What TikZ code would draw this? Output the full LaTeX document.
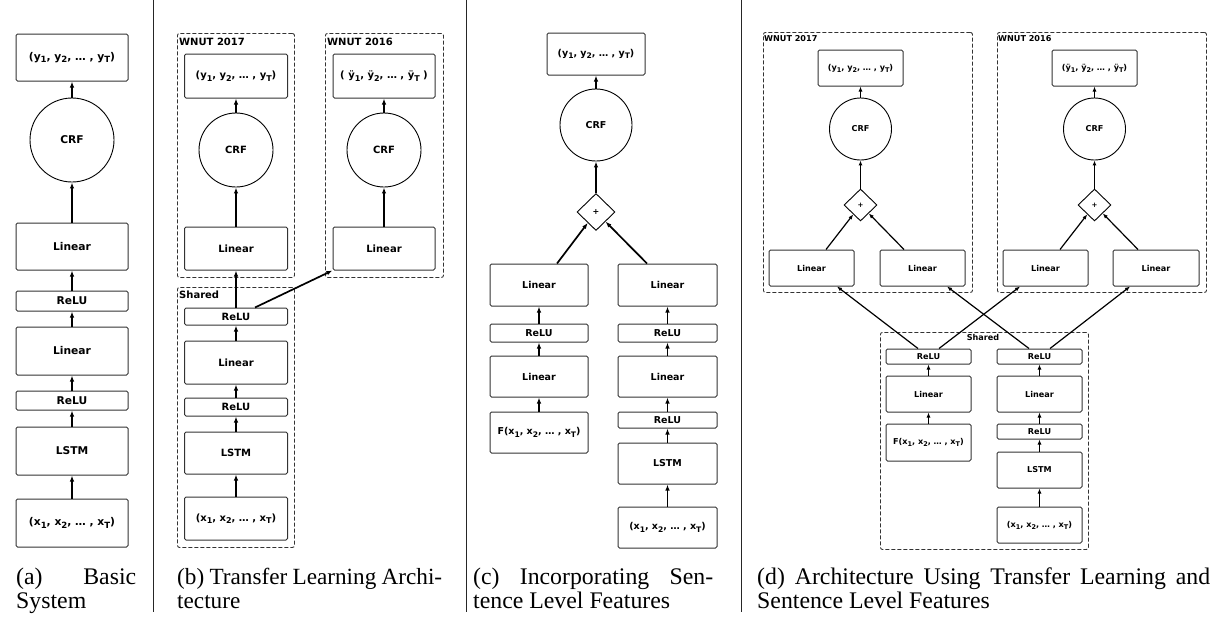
\documentclass[tikz,border=0pt]{standalone}
\usepackage{fontspec}
\usepackage{graphicx}
\setmainfont{Liberation Serif}
\setsansfont{DejaVu Sans}
\usetikzlibrary{arrows.meta,shapes.geometric,calc}
\newcommand\lsub[1]{\raisebox{-0.45ex}{\scalebox{0.8}{#1}}}
\newcommand\labY{(y\lsub{1}, y\lsub{2}, … , y\lsub{T})}
\newcommand\labYh{( ÿ\lsub{1}, ÿ\lsub{2}, … , ÿ\lsub{T} )}
\newcommand\labYhd{(ÿ\lsub{1}, ÿ\lsub{2}, … , ÿ\lsub{T})}
\newcommand\labX{(x\lsub{1}, x\lsub{2}, … , x\lsub{T})}
\newcommand\labF{F(x\lsub{1}, x\lsub{2}, … , x\lsub{T})}
\tikzset{
  nbox/.style={draw=black!80, line width=1pt, rounded corners=1.5pt, inner sep=0pt},
  ncrf/.style={circle, draw=black, line width=0.9pt, inner sep=0pt},
  nplus/.style={diamond, draw=black, line width=0.9pt, inner sep=0pt},
  ngrp/.style={draw=black!80, dash pattern=on 4pt off 2pt, line width=0.9pt, rounded corners=2pt, inner sep=0pt, anchor=north west},
  narr/.style={-{Latex[length=6pt,width=4.5pt]}, line width=1.7pt},
  narrd/.style={-{Latex[length=5pt,width=4pt]}, line width=1.2pt},
  nsep/.style={line width=0.9pt, black!85},
  fa/.style={font=\sffamily\bfseries\fontsize{10.7}{12}\selectfont},
  fb/.style={font=\sffamily\bfseries\fontsize{10}{12}\selectfont},
  fc/.style={font=\sffamily\bfseries\fontsize{9.5}{11}\selectfont},
  fd/.style={font=\sffamily\bfseries\fontsize{8.1}{10}\selectfont},
  captxt/.style={anchor=base west, inner sep=0pt, font=\fontsize{23.8}{24}\selectfont},
}
\begin{document}
\begin{tikzpicture}[x=1pt,y=-1pt]
\useasboundingbox (0,0) rectangle (1223,621);
% separators
\draw[nsep] (153,0) -- (153,612);
\draw[nsep] (466.5,0) -- (466.5,612);
\draw[nsep] (741,0) -- (741,612);

% ---------------- panel (a)
\begin{scope}[fa]
\node[nbox, minimum width=112pt, minimum height=47pt] (ya) at (72,57.5) {\labY};
\node[ncrf, minimum size=84pt] (crfa) at (72,140) {CRF};
\node[nbox, minimum width=112pt, minimum height=47pt] (lin2a) at (72,246.5) {Linear};
\node[nbox, minimum width=112pt, minimum height=20pt] (relu2a) at (72,301) {ReLU};
\node[nbox, minimum width=112pt, minimum height=48pt] (lin1a) at (72,351) {Linear};
\node[nbox, minimum width=112pt, minimum height=19pt] (relu1a) at (72,400.5) {ReLU};
\node[nbox, minimum width=112pt, minimum height=48pt] (lstma) at (72,451) {LSTM};
\node[nbox, minimum width=112pt, minimum height=48pt] (xa) at (72,523) {\labX};
\end{scope}
\draw[narr] (xa) -- (lstma);
\draw[narr] (lstma) -- (relu1a);
\draw[narr] (relu1a) -- (lin1a);
\draw[narr] (lin1a) -- (relu2a);
\draw[narr] (relu2a) -- (lin2a);
\draw[narr] (lin2a) -- (crfa);
\draw[narr] (crfa) -- (ya);

% ---------------- panel (b)
\node[ngrp, minimum width=117pt, minimum height=244pt] (g17b) at (177,33) {};
\node[ngrp, minimum width=118pt, minimum height=244pt] (g16b) at (325,33) {};
\node[ngrp, minimum width=117pt, minimum height=260pt] (gshb) at (177,287) {};
\begin{scope}[fb]
\node[anchor=base west, inner sep=0pt] (t17b) at (179,45) {WNUT 2017};
\node[anchor=base west, inner sep=0pt] (t16b) at (327,45) {WNUT 2016};
\node[anchor=base west, inner sep=0pt] (tshb) at (179,298) {Shared};
\node[nbox, minimum width=103pt, minimum height=44pt] (yb1) at (236,76) {\labY};
\node[ncrf, minimum size=74pt] (crfb1) at (236,150) {CRF};
\node[nbox, minimum width=103pt, minimum height=43pt] (linb1) at (236,248.5) {Linear};
\node[nbox, minimum width=102pt, minimum height=44pt] (yb2) at (384,76) {\labYh};
\node[ncrf, minimum size=74pt] (crfb2) at (384,150) {CRF};
\node[nbox, minimum width=102pt, minimum height=43pt] (linb2) at (384,248.5) {Linear};
\node[nbox, minimum width=103pt, minimum height=17pt] (relub2) at (236,316.5) {ReLU};
\node[nbox, minimum width=103pt, minimum height=43pt] (linb0) at (236,362.5) {Linear};
\node[nbox, minimum width=103pt, minimum height=18pt] (relub1) at (236,407) {ReLU};
\node[nbox, minimum width=103pt, minimum height=42pt] (lstmb) at (236,453) {LSTM};
\node[nbox, minimum width=103pt, minimum height=43pt] (xb) at (236,518.5) {\labX};
\end{scope}
\draw[narr] (xb) -- (lstmb);
\draw[narr] (lstmb) -- (relub1);
\draw[narr] (relub1) -- (linb0);
\draw[narr] (linb0) -- (relub2);
\draw[narr] (relub2) -- (linb1);
\draw[narr] ([xshift=19pt]relub2.north) -- (linb2.south west);
\draw[narr] (linb1) -- (crfb1);
\draw[narr] (crfb1) -- (yb1);
\draw[narr] (linb2) -- (crfb2);
\draw[narr] (crfb2) -- (yb2);

% ---------------- panel (c)
\begin{scope}[fc]
\node[nbox, minimum width=98pt, minimum height=42pt] (yc) at (596,54) {\labY};
\node[ncrf, minimum size=72pt] (crfc) at (596,125) {CRF};
\node[nplus, minimum width=38pt, minimum height=37pt, font=\sffamily\bfseries\fontsize{8}{9}\selectfont] (plusc) at (596,212) {+};
\node[nbox, minimum width=98pt, minimum height=42pt] (lincL) at (539,285) {Linear};
\node[nbox, minimum width=98pt, minimum height=18pt] (relucL) at (539,333) {ReLU};
\node[nbox, minimum width=98pt, minimum height=41pt] (lincL2) at (539,376.5) {Linear};
\node[nbox, minimum width=98pt, minimum height=41pt] (fc) at (539,432.5) {\labF};
\node[nbox, minimum width=99pt, minimum height=42pt] (lincR) at (667.5,285) {Linear};
\node[nbox, minimum width=99pt, minimum height=18pt] (relucR) at (667.5,333) {ReLU};
\node[nbox, minimum width=99pt, minimum height=41pt] (lincR2) at (667.5,376.5) {Linear};
\node[nbox, minimum width=99pt, minimum height=16pt] (relucR2) at (667.5,420) {ReLU};
\node[nbox, minimum width=99pt, minimum height=41pt] (lstmc) at (667.5,463.5) {LSTM};
\node[nbox, minimum width=99pt, minimum height=41pt] (xc) at (667.5,527.5) {\labX};
\end{scope}
\draw[narr] (fc) -- (lincL2);
\draw[narr] (lincL2) -- (relucL);
\draw[narr] (relucL) -- (lincL);
\draw[narr] (xc) -- (lstmc);
\draw[narr] (lstmc) -- (relucR2);
\draw[narr] (relucR2) -- (lincR2);
\draw[narr] (lincR2) -- (relucR);
\draw[narr] (relucR) -- (lincR);
\draw[narr] ([xshift=18pt]lincL.north) -- (plusc);
\draw[narr] ([xshift=-20.5pt]lincR.north) -- (plusc);
\draw[narr] (plusc) -- (crfc);
\draw[narr] (crfc) -- (yc);

% ---------------- panel (d)
\node[ngrp, minimum width=209pt, minimum height=260pt] (g17d) at (763,32) {};
\node[ngrp, minimum width=209pt, minimum height=260pt] (g16d) at (997,32) {};
\node[ngrp, minimum width=208pt, minimum height=217pt] (gshd) at (880,332) {};
\begin{scope}[fd]
\node[anchor=base west, inner sep=0pt] (t17d) at (764,41) {WNUT 2017};
\node[anchor=base west, inner sep=0pt] (t16d) at (998,41) {WNUT 2016};
\node[anchor=base, inner sep=0pt] (tshd) at (983,340) {Shared};
\node[nbox, minimum width=85pt, minimum height=36pt] (yd1) at (860.5,68) {\labY};
\node[ncrf, minimum size=62pt] (crfd1) at (860.5,129) {CRF};
\node[nplus, minimum width=33pt, minimum height=32pt, font=\sffamily\bfseries\fontsize{7}{8}\selectfont] (plusd1) at (860.5,205) {+};
\node[nbox, minimum width=85pt, minimum height=36pt] (lindLL) at (811.5,268) {Linear};
\node[nbox, minimum width=85pt, minimum height=36pt] (lindLR) at (922.5,268) {Linear};
\node[nbox, minimum width=85pt, minimum height=36pt] (yd2) at (1094.5,68) {\labYhd};
\node[ncrf, minimum size=62pt] (crfd2) at (1094.5,129) {CRF};
\node[nplus, minimum width=33pt, minimum height=32pt, font=\sffamily\bfseries\fontsize{7}{8}\selectfont] (plusd2) at (1094.5,205) {+};
\node[nbox, minimum width=85pt, minimum height=36pt] (lindRL) at (1045.5,268) {Linear};
\node[nbox, minimum width=86pt, minimum height=36pt] (lindRR) at (1156,268) {Linear};
\node[nbox, minimum width=85pt, minimum height=15pt] (reludL) at (928.5,356.5) {ReLU};
\node[nbox, minimum width=85pt, minimum height=36pt] (lindL) at (928.5,394) {Linear};
\node[nbox, minimum width=85pt, minimum height=37pt] (fd) at (928.5,442.5) {\labF};
\node[nbox, minimum width=85pt, minimum height=15pt] (reludR) at (1039.5,356.5) {ReLU};
\node[nbox, minimum width=85pt, minimum height=36pt] (lindR) at (1039.5,394) {Linear};
\node[nbox, minimum width=85pt, minimum height=15pt] (reludR2) at (1039.5,431.5) {ReLU};
\node[nbox, minimum width=85pt, minimum height=36pt] (lstmd) at (1039.5,470) {LSTM};
\node[nbox, minimum width=85pt, minimum height=36pt] (xd) at (1039.5,525) {\labX};
\end{scope}
\draw[narrd] (fd) -- (lindL);
\draw[narrd] (lindL) -- (reludL);
\draw[narrd] (xd) -- (lstmd);
\draw[narrd] (lstmd) -- (reludR2);
\draw[narrd] (reludR2) -- (lindR);
\draw[narrd] (lindR) -- (reludR);
\draw[narrd] ([xshift=-10.5pt]reludL.north) -- ([xshift=25.5pt]lindLL.south);
\draw[narrd] ([xshift=10.5pt]reludL.north) -- ([xshift=-25.5pt]lindRL.south);
\draw[narrd] ([xshift=-10.5pt]reludR.north) -- ([xshift=24.5pt]lindLR.south);
\draw[narrd] ([xshift=10.5pt]reludR.north) -- ([xshift=-26pt]lindRR.south);
\draw[narrd] ([xshift=14.5pt]lindLL.north) -- (plusd1);
\draw[narrd] ([xshift=-18.5pt]lindLR.north) -- (plusd1);
\draw[narrd] ([xshift=14.5pt]lindRL.north) -- (plusd2);
\draw[narrd] ([xshift=-18pt]lindRR.north) -- (plusd2);
\draw[narrd] (plusd1) -- (crfd1);
\draw[narrd] (crfd1) -- (yd1);
\draw[narrd] (plusd2) -- (crfd2);
\draw[narrd] (crfd2) -- (yd2);

% ---------------- captions
\node[captxt] (ca1) at (16,584) {\makebox[120pt][s]{(a) Basic}};
\node[captxt] (ca2) at (16,608) {System};
\node[captxt, font=\fontsize{23.2}{24}\selectfont] (cb1) at (177,584) {\makebox[265pt][s]{(b) Transfer Learning Archi-}};
\node[captxt, font=\fontsize{23.2}{24}\selectfont] (cb2) at (177,608) {tecture};
\node[captxt] (cc1) at (473,584) {\makebox[240pt][s]{(c) Incorporating Sen-}};
\node[captxt] (cc2) at (473,608) {tence Level Features};
\node[captxt] (cd1) at (757,584) {\makebox[453pt][s]{(d) Architecture Using Transfer Learning and}};
\node[captxt] (cd2) at (757,608) {Sentence Level Features};
\end{tikzpicture}
\end{document}
